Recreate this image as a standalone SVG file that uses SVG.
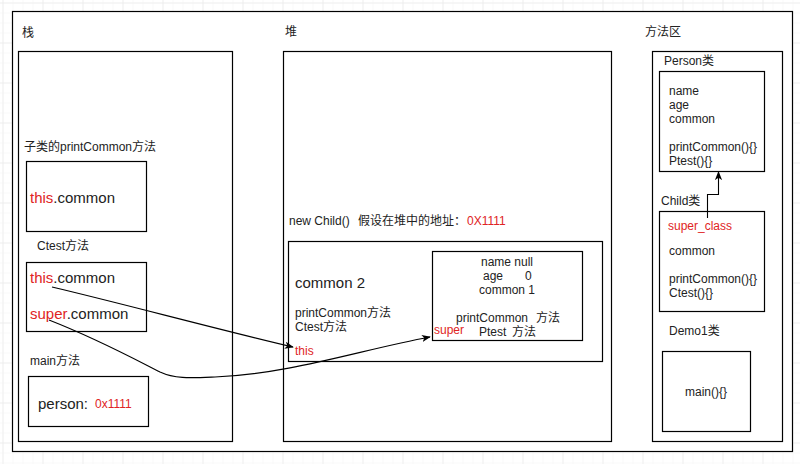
<svg xmlns="http://www.w3.org/2000/svg" width="800" height="464" viewBox="0 0 800 464">
<defs>
<pattern id="gminor" x="2.5" y="2.5" width="10" height="10" patternUnits="userSpaceOnUse">
<path d="M0 0H10M0 0V10" fill="none" stroke="#f3f3f3" stroke-width="1"/>
</pattern>
<pattern id="gmajor" x="2.5" y="2.5" width="40" height="40" patternUnits="userSpaceOnUse">
<path d="M0 0H40M0 0V40" fill="none" stroke="#e6e6e6" stroke-width="1"/>
</pattern>
<marker id="arr" viewBox="0 0 10 10" refX="9" refY="5" markerWidth="9" markerHeight="9" orient="auto" markerUnits="userSpaceOnUse">
<path d="M0 1L10 5L0 9L2.5 5Z" fill="#000"/>
</marker>
</defs>
<style>
.box{fill:#fff;stroke:#000;stroke-width:1.2}
.t{font-family:"Liberation Sans","Noto Sans CJK SC",sans-serif;font-size:12px;fill:#222}
.b{font-size:15px}
.r{fill:#e02424}
.c{text-anchor:middle}
.e{fill:none;stroke:#000;stroke-width:1.1}
</style>
<rect width="800" height="464" fill="#fff"/>
<rect width="800" height="464" fill="url(#gminor)"/>
<rect width="800" height="464" fill="url(#gmajor)"/>

<g id="frame">
<rect class="box" x="12.5" y="11.5" width="780" height="440"/>
</g>

<g id="stack">
<rect class="box" x="18.5" y="51.5" width="214" height="390"/>
<text class="t" x="22" y="37">栈</text>
</g>
<g id="printCommon-frame">
<text class="t" x="24" y="151">子类的printCommon方法</text>
<rect class="box" x="26.5" y="161.5" width="120" height="70"/>
<text class="t b" x="30" y="203"><tspan class="r">this</tspan>.common</text>
</g>
<g id="ctest-frame">
<text class="t" x="37" y="250">Ctest方法</text>
<rect class="box" x="26.5" y="262.5" width="120" height="69"/>
<text class="t b" x="30" y="283"><tspan class="r">this</tspan>.common</text>
<text class="t b" x="30" y="319"><tspan class="r">super</tspan>.common</text>
</g>
<g id="main-frame">
<text class="t" x="30" y="365">main方法</text>
<rect class="box" x="28.5" y="376.5" width="120" height="50"/>
<text class="t b" x="38" y="409">person:</text>
<text class="t r" x="95" y="408">0x1111</text>
</g>

<g id="heap">
<rect class="box" x="283.5" y="51.5" width="328" height="390"/>
<text class="t" x="285" y="36">堆</text>
<text class="t" x="289" y="225">new Child()</text>
<text class="t" x="358" y="225">假设在堆中的地址：</text>
<text class="t r" x="467" y="225">0X1111</text>
</g>
<g id="child-object">
<rect class="box" x="288.5" y="241.5" width="314" height="120"/>
<text class="t b" x="295" y="288">common 2</text>
<text class="t" x="295" y="317">printCommon方法</text>
<text class="t" x="295" y="331">Ctest方法</text>
<text class="t r" x="295" y="355">this</text>
</g>
<g id="parent-part">
<rect class="box" x="432.5" y="251.5" width="150" height="89"/>
<text class="t c" x="507" y="266">name null</text>
<text class="t" x="483" y="280">age</text>
<text class="t" x="525" y="280">0</text>
<text class="t c" x="507" y="294">common 1</text>
<text class="t" x="456" y="322">printCommon</text>
<text class="t" x="536" y="322">方法</text>
<text class="t" x="479" y="336">Ptest</text>
<text class="t" x="512" y="336">方法</text>
<text class="t r" x="434" y="334">super</text>
</g>

<g id="method-area">
<rect class="box" x="652.5" y="51.5" width="130" height="390"/>
<text class="t" x="645" y="36">方法区</text>
</g>
<g id="person-class">
<text class="t" x="664" y="65">Person类</text>
<rect class="box" x="659.5" y="71.5" width="105" height="100"/>
<text class="t" x="669" y="95">name</text>
<text class="t" x="669" y="109">age</text>
<text class="t" x="669" y="123">common</text>
<text class="t" x="669" y="151">printCommon(){}</text>
<text class="t" x="669" y="165">Ptest(){}</text>
</g>
<g id="child-class">
<text class="t" x="661" y="205">Child类</text>
<rect class="box" x="659.5" y="211.5" width="105" height="100"/>
<text class="t r" x="668" y="230">super_class</text>
<text class="t" x="669" y="255">common</text>
<text class="t" x="669" y="283">printCommon(){}</text>
<text class="t" x="669" y="297">Ctest(){}</text>
</g>
<g id="demo1-class">
<text class="t" x="669" y="335">Demo1类</text>
<rect class="box" x="662.5" y="351.5" width="88" height="80"/>
<text class="t c" x="706" y="396">main(){}</text>
</g>

<g id="connectors">
<path class="e" d="M707.5 218V194.5H718.5V172" marker-end="url(#arr)"/>
<path class="e" d="M52 287C120 303 220 330 293 347" marker-end="url(#arr)"/>
<path class="e" d="M49 320C100 340 140 362 160 372C175 379 190 378 215 377C290 374 360 350 430 337" marker-end="url(#arr)"/>
</g>
</svg>
